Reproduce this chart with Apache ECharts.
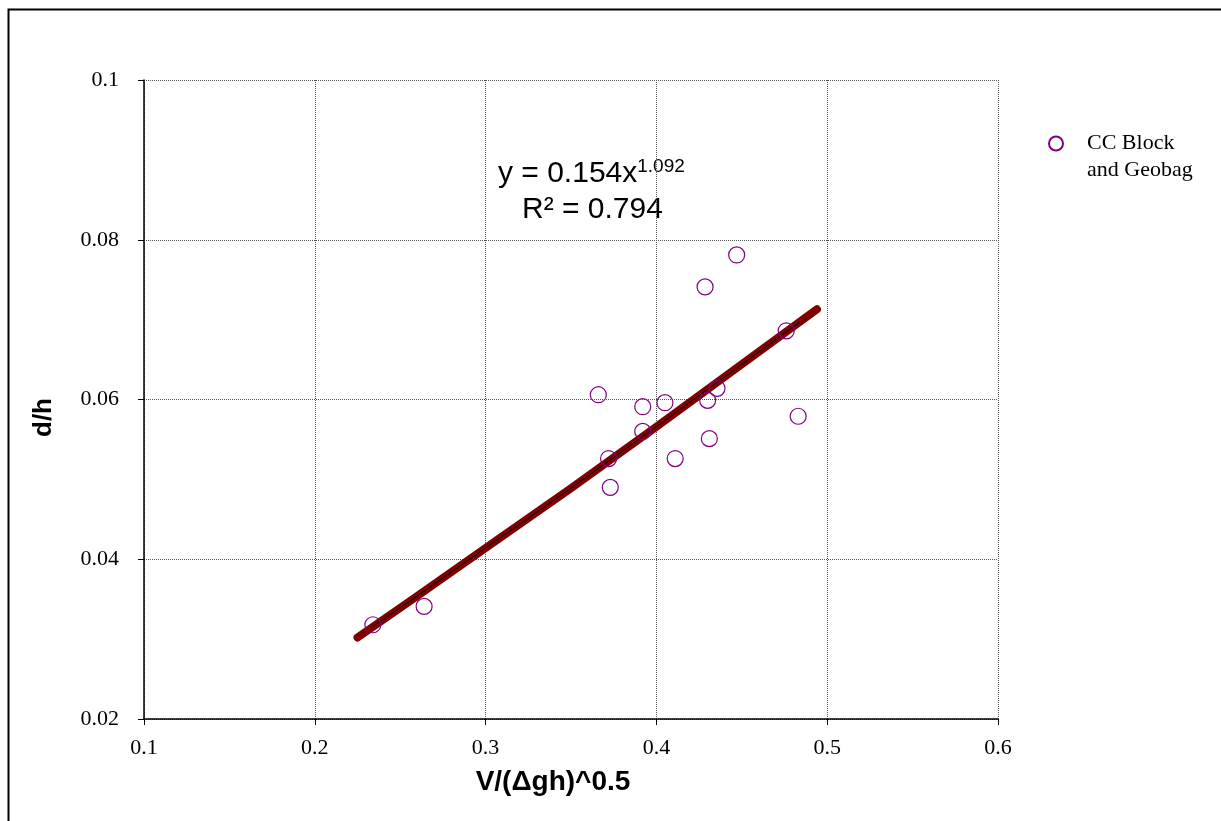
<!DOCTYPE html>
<html>
<head>
<meta charset="utf-8">
<script src="https://cdn.jsdelivr.net/npm/echarts@6/dist/echarts.min.js"></script>
<style>html,body{margin:0;padding:0;background:#fff}#c{width:1221px;height:821px}</style>
</head>
<body>
<div id="c"></div>
<script>
const seriesName = 'CC Block\nand Geobag';
const xValues = [0.234, 0.264, 0.366, 0.372, 0.373, 0.392, 0.392, 0.405, 0.411, 0.4285, 0.430, 0.4355, 0.431, 0.447, 0.476, 0.483];
const yValues = [0.0318, 0.0341, 0.0606, 0.0526, 0.0490, 0.0560, 0.0591, 0.0596, 0.0526, 0.0741, 0.0599, 0.0614, 0.0551, 0.0781, 0.0686, 0.0579];
const trendX = [0.225, 0.26, 0.30, 0.35, 0.40, 0.45, 0.494];
const trendY = [0.0302, 0.0354, 0.0414, 0.0489, 0.0566, 0.0644, 0.0713];
const fitX = [0.234, 0.26, 0.30, 0.35, 0.40, 0.45, 0.484];
const fitY = [0.0316, 0.0354, 0.0414, 0.0489, 0.0566, 0.0644, 0.0697];
const xTicks = [0.1, 0.2, 0.3, 0.4, 0.5, 0.6];
const yTicks = [0.02, 0.04, 0.06, 0.08, 0.1];

const chart = echarts.init(document.getElementById('c'));
const pts = xValues.map((x, i) => [x, yValues[i]]);
const trend = trendX.map((x, i) => [x, trendY[i]]);
const fit = fitX.map((x, i) => [x, fitY[i]]);
const serif = '"Liberation Serif", "Times New Roman", serif';
const sans = '"Liberation Sans", Arial, sans-serif';

chart.setOption({
  animation: false,
  backgroundColor: '#fff',
  grid: { left: 144, top: 80, right: 223, bottom: 102, containLabel: false },
  xAxis: {
    type: 'value', min: 0.1, max: 0.6, interval: 0.1,
    name: 'V/(\u0394gh)^0.5', nameLocation: 'middle', nameGap: 49,
    nameTextStyle: { fontFamily: sans, fontWeight: 'bold', fontSize: 28, color: '#000', padding: [0, 36, 0, 0] },
    axisLine: { show: true, onZero: false, lineStyle: { color: '#000', width: 1.5 } },
    axisTick: { show: true, inside: false, length: 6, lineStyle: { color: '#000' } },
    axisLabel: { fontFamily: serif, fontSize: 22, color: '#000', margin: 18,
      formatter: v => String(+v.toFixed(2)) },
    splitLine: { show: true, lineStyle: { color: '#555', type: [1, 1], width: 1 } }
  },
  yAxis: {
    type: 'value', min: 0.02, max: 0.1, interval: 0.02,
    name: 'd/h', nameLocation: 'middle', nameGap: 87, nameRotate: 90,
    nameTextStyle: { fontFamily: sans, fontWeight: 'bold', fontSize: 26, color: '#000', padding: [0, 36, 0, 0] },
    axisLine: { show: true, onZero: false, lineStyle: { color: '#000', width: 1.5 } },
    axisTick: { show: true, inside: false, length: 6, lineStyle: { color: '#000' } },
    axisLabel: { fontFamily: serif, fontSize: 22, color: '#000', margin: 25,
      formatter: v => String(+v.toFixed(2)) },
    splitLine: { show: true, lineStyle: { color: '#555', type: [1, 1], width: 1 } }
  },
  legend: {
    left: 1043, top: 98, orient: 'vertical',
    data: [{ name: seriesName, icon: 'circle' }],
    itemWidth: 14, itemHeight: 14, itemGap: 10,
    formatter: name => ' \n' + name,
    textStyle: { fontFamily: serif, fontSize: 22, color: '#000', lineHeight: 27, padding: [0, 0, 0, 19] }
  },
  graphic: [
    { type: 'rect', left: 6, top: 7, shape: { width: 1240, height: 840 }, style: { fill: 'none', stroke: '#000', lineWidth: 2 }, silent: true },
    { type: 'text', left: 498, top: 157, style: {
        text: '{a|y = 0.154x}{b|1.092}',
        rich: { a: { fontFamily: sans, fontSize: 30, color: '#000', verticalAlign: 'bottom' },
                b: { fontFamily: sans, fontSize: 19, color: '#000', verticalAlign: 'top', padding: [0, 0, 13, 0] } } } },
    { type: 'text', left: 522, top: 195, style: { text: 'R\u00b2 = 0.794', fontFamily: sans, fontSize: 30, fill: '#000' } }
  ],
  series: [
    { name: 'trend', type: 'line', data: trend, showSymbol: false, symbol: 'none', z: 3,
      lineStyle: { color: '#800000', width: 8, cap: 'round', join: 'round' } },
    { name: 'fit', type: 'line', data: fit, showSymbol: false, symbol: 'none', z: 4,
      lineStyle: { color: '#000', width: 1 } },
    { name: seriesName, type: 'scatter', data: pts, symbol: 'circle', symbolSize: 16, z: 5,
      itemStyle: { color: 'rgba(255,255,255,0)', borderColor: '#800080', borderWidth: 1.2, opacity: 1 } }
  ]
});
</script>
</body>
</html>
